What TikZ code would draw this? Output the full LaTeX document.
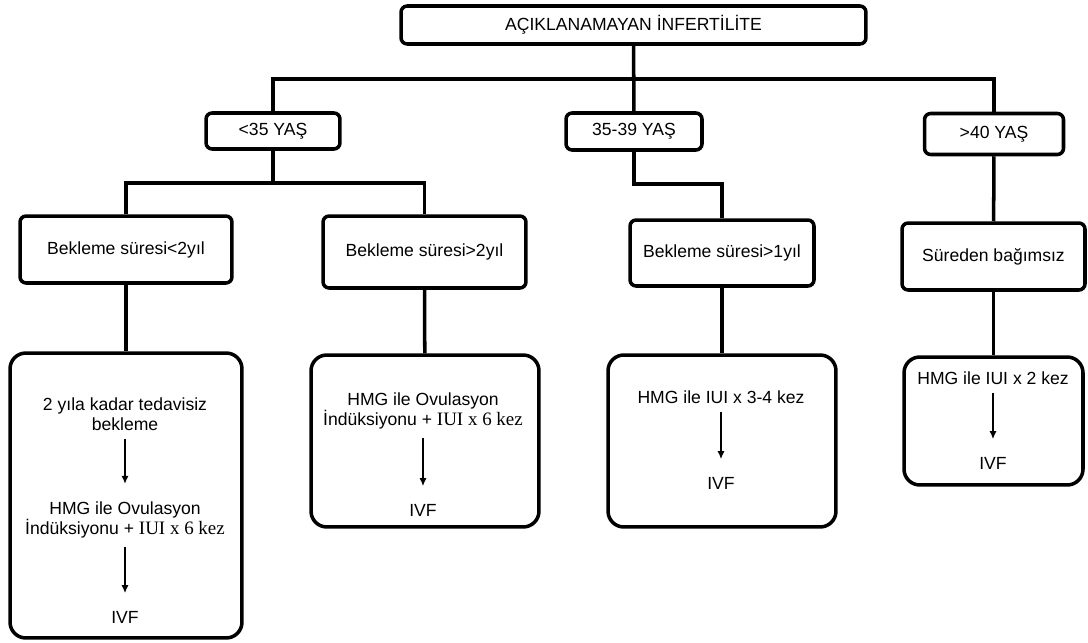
\documentclass[tikz,border=0pt]{standalone}
\usepackage{fontspec}
\usetikzlibrary{arrows.meta}
\setmainfont{Liberation Sans}
\newfontfamily\timesfont{Liberation Serif}
\tikzset{
	box/.style={draw, rectangle, rounded corners=3.5pt, line width=2pt, align=center, font=\fontsize{10}{11.5}\selectfont},
	bigbox/.style={draw, rectangle, rounded corners=9pt, line width=2pt},
	conn/.style={line width=2pt},
	txt/.style={align=center, font=\fontsize{10}{11.5}\selectfont, inner sep=1pt},
	flow/.style={-{Latex[length=4.5pt,width=4pt]}, line width=0.7pt, shorten <=3.5pt, shorten >=9pt}
}
\newcommand{\serifbit}[1]{{\timesfont\fontsize{10.8}{11.5}\selectfont #1}}
\begin{document}
\begin{tikzpicture}[x=0.02cm, y=-0.02cm]
	\useasboundingbox (0,0) rectangle (1088,642);
	% levels
	\node [box, minimum width=9.3cm, minimum height=0.76cm] (top) at (633.5,25) {AÇIKLANAMAYAN İNFERTİLİTE};
	\node [box, minimum width=2.68cm, minimum height=0.72cm] (age1) at (273,131) {<35 YAŞ};
	\node [box, minimum width=2.72cm, minimum height=0.74cm] (age2) at (634,131.5) {35-39 YAŞ};
	\node [box, minimum width=2.78cm, minimum height=0.82cm] (age3) at (994,134) {>40 YAŞ};
	\node [box, minimum width=4.24cm, minimum height=1.34cm] (wait1) at (126,249.5) {Bekleme süresi<2yıl};
	\node [box, minimum width=4.06cm, minimum height=1.44cm] (wait2) at (424.5,252) {Bekleme süresi>2yıl};
	\node [box, minimum width=3.68cm, minimum height=1.32cm] (wait3) at (722,253) {Bekleme süresi>1yıl};
	\node [box, minimum width=3.66cm, minimum height=1.34cm] (wait4) at (993.5,256.5) {Süreden bağımsız};
	\node [bigbox, minimum width=4.64cm, minimum height=5.70cm] (tx1) at (126,495.5) {};
	\node [bigbox, minimum width=4.56cm, minimum height=3.44cm] (tx2) at (425,441) {};
	\node [bigbox, minimum width=4.56cm, minimum height=3.44cm] (tx3) at (722,441) {};
	\node [bigbox, minimum width=3.58cm, minimum height=2.56cm] (tx4) at (993.5,421) {};
	% connectors
	\coordinate (bar) at (633.5,79);
	\coordinate (split1) at (273,183);
	\coordinate (jog2) at (634,184);
	\draw [conn] (top) -- (age2);
	\draw [conn] (age1) |- (bar) -| (age3);
	\draw [conn] (age1) -- (split1);
	\draw [conn] (wait1) |- (split1) -| (wait2);
	\draw [conn] (age2) |- (jog2) -| (wait3);
	\draw [conn] (age3) -- (wait4);
	\draw [conn] (wait1) -- (tx1);
	\draw [conn] (wait2) -- (tx2);
	\draw [conn] (wait3) -- (tx3);
	\draw [conn] (wait4) -- (tx4);
	% box contents
	\node [txt] (s11) at (125,414) {2 yıla kadar tedavisiz\\bekleme};
	\node [txt] (s12) at (125,520) {HMG ile Ovulasyon\\İndüksiyonu + \serifbit{IUI x 6 kez}};
	\node [txt] (s13) at (125,617) {IVF};
	\node [txt] (s21) at (423,411) {HMG ile Ovulasyon\\İndüksiyonu + \serifbit{IUI x 6 kez}};
	\node [txt] (s22) at (423,510) {IVF};
	\node [txt] (s31) at (721,397) {HMG ile IUI x 3-4 kez};
	\node [txt] (s32) at (721,483) {IVF};
	\node [txt] (s41) at (993,378) {HMG ile IUI x 2 kez};
	\node [txt] (s42) at (993,463) {IVF};
	\draw [flow] (s11) -- (s12);
	\draw [flow] (s12) -- (s13);
	\draw [flow] (s21) -- (s22);
	\draw [flow] (s31) -- (s32);
	\draw [flow] (s41) -- (s42);
\end{tikzpicture}
\end{document}
